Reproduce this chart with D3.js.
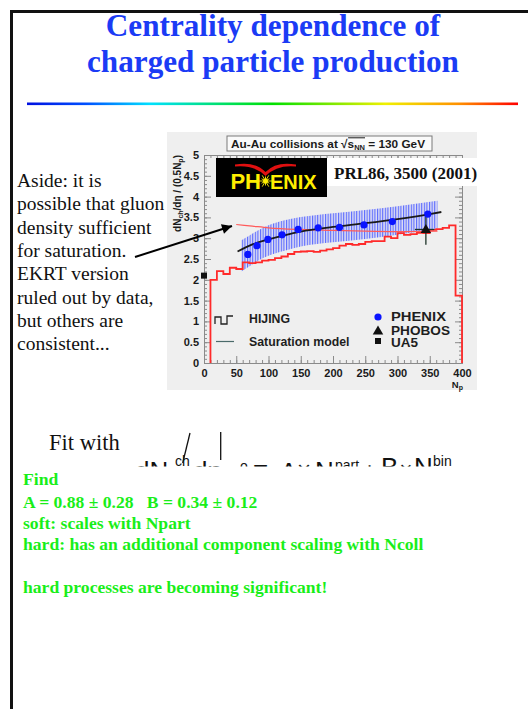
<!DOCTYPE html>
<html>
<head>
<meta charset="utf-8">
<script src="https://cdn.jsdelivr.net/npm/d3@7"></script>
<style>
body{margin:0;background:#fff;}
svg{display:block;}
</style>
</head>
<body>
<svg id="slide"></svg>
<script>
// PHENIX dNch/deta / (0.5 Npart) vs Npart
const phenixNp  = [68, 82, 99, 121, 146, 177, 210, 248, 292, 347]
const phenixVal = [2.61, 2.82, 2.97, 3.08, 3.21, 3.25, 3.26, 3.32, 3.40, 3.58]

// systematic error band (hatched)
const bandNp = [58, 70, 85, 100, 125, 150, 175, 200, 250, 300, 362]
const bandLo = [2.20, 2.32, 2.47, 2.58, 2.70, 2.80, 2.86, 2.90, 2.98, 3.08, 3.24]
const bandHi = [2.95, 3.06, 3.20, 3.31, 3.43, 3.51, 3.56, 3.60, 3.68, 3.77, 3.90]

// fit A*Npart + B*Nbin
const fitNp  = [52, 75, 100, 150, 200, 250, 300, 350, 368]
const fitVal = [2.68, 2.85, 2.97, 3.16, 3.27, 3.36, 3.46, 3.58, 3.63]

// saturation model
const satNp  = [50, 75, 100, 150, 200, 250, 300, 362]
const satVal = [3.33, 3.29, 3.25, 3.21, 3.19, 3.17, 3.16, 3.17]

// HIJING histogram: bin edges and contents
const hijingEdges = [10,20,30,40,50,60,70,80,90,100,110,120,130,140,150,160,170,180,190,200,
                     210,220,230,240,250,260,270,280,290,300,310,320,330,340,350,360,370,380,390,400]
const hijingVal = [2.00,2.21,2.14,2.29,2.26,2.42,2.40,2.42,2.46,2.48,2.52,2.56,2.62,2.67,2.68,2.69,2.67,2.70,2.73,2.76,
                   2.82,2.86,2.84,2.86,2.91,2.93,2.93,3.04,3.00,3.12,3.08,3.10,3.13,3.12,3.20,3.22,3.25,3.31,1.62]

// PHOBOS and UA5
const phobosNp = [344], phobosVal = [3.21], phobosLo = [2.84], phobosHi = [3.57], phobosNpLo = [327], phobosNpHi = [357]
const ua5Np = [0], ua5Val = [2.10]

// axes
const xTicks = [0, 50, 100, 150, 200, 250, 300, 350, 400]
const yTicks = [0, 0.5, 1, 1.5, 2, 2.5, 3, 3.5, 4, 4.5, 5]
const yLabels = ['0', '0.5', '1', '1.5', '2', '2.5', '3', '3.5', '4', '4.5', '5']

// slide texts
const titleLines = ['Centrality dependence of', 'charged particle production']
const asideLines = ['Aside: it is', 'possible that gluon', 'density sufficient', 'for saturation.',
                    'EKRT version', 'ruled out by data,', 'but others are', 'consistent...']
const greenLines = ['Find', 'A = 0.88 \u00b1 0.28   B = 0.34 \u00b1 0.12', 'soft: scales with Npart',
                    'hard: has an additional component scaling with Ncoll', '', 'hard processes are becoming significant!']

const SERIF = "'Liberation Serif','Times New Roman',serif"
const SANS = "'Liberation Sans',Arial,Helvetica,sans-serif"

const svg = d3.select('#slide').attr('width', 528).attr('height', 709)
const defs = svg.append('defs')

// ---------- slide frame, title, rainbow rule ----------
svg.append('rect').attr('x', 10).attr('y', 10).attr('width', 3).attr('height', 699).attr('fill', '#111')
svg.append('rect').attr('x', 10).attr('y', 10).attr('width', 518).attr('height', 3).attr('fill', '#111')

svg.selectAll('text.title').data(titleLines).enter().append('text')
    .attr('class', 'title')
    .attr('x', 273).attr('y', (d, i) => 35.5 + i * 36.5)
    .attr('text-anchor', 'middle')
    .attr('font-family', SERIF).attr('font-weight', 'bold').attr('font-size', 31.2)
    .attr('fill', '#1b3bf5')
    .text(d => d)

const grad = defs.append('linearGradient').attr('id', 'rainbow')
const stops = [[0, '#0010e0'], [0.12, '#0050ff'], [0.25, '#00e0ff'], [0.5, '#00e000'], [0.73, '#f0f000'], [0.88, '#ff9000'], [1, '#ff0000']]
grad.selectAll('stop').data(stops).enter().append('stop')
    .attr('offset', d => d[0]).attr('stop-color', d => d[1])
svg.append('rect').attr('x', 27).attr('y', 102.5).attr('width', 491).attr('height', 2.6).attr('fill', 'url(#rainbow)')

// ---------- aside text ----------
svg.selectAll('text.aside').data(asideLines).enter().append('text')
    .attr('class', 'aside')
    .attr('x', 17).attr('y', (d, i) => 187 + i * 23.3)
    .attr('font-family', SERIF).attr('font-size', 19.5).attr('fill', '#111')
    .text(d => d)

// ---------- chart ----------
class CentralityChart{
    constructor(config){
        this.config = config
        this.init()
    }

    init(){
        let self = this
        const c = self.config
        self.g = c.svg.append('g')
        self.xscale = d3.scaleLinear().domain([0, 400]).range([c.left, c.right])
        self.yscale = d3.scaleLinear().domain([0, 5]).range([c.bottom, c.top])
    }

    render(){
        let self = this
        const c = self.config
        const x = self.xscale, y = self.yscale
        const g = self.g

        g.append('rect').attr('x', c.bgX).attr('y', c.bgY).attr('width', c.bgW).attr('height', c.bgH).attr('fill', '#efefef')

        // axes (ROOT-like, ticks inward on all four sides)
        const axisColor = '#8a8a8a'
        const style = (a) => {
            a.select('.domain').attr('stroke', axisColor)
            a.selectAll('.tick line').attr('stroke', axisColor)
            a.selectAll('text').attr('font-family', SANS).attr('font-weight', 'bold').attr('font-size', 11).attr('fill', '#1a1a1a')
        }
        const xMinor = d3.range(0, 401, 10)
        const yMinor = d3.range(0, 5.001, 0.1)

        g.append('g').attr('transform', `translate(0,${c.bottom})`)
            .call(d3.axisBottom(x).tickValues(xMinor).tickSize(-3).tickFormat('')).call(style)
        g.append('g').attr('transform', `translate(0,${c.bottom})`)
            .call(d3.axisBottom(x).tickValues(xTicks).tickSizeInner(-7).tickSizeOuter(0).tickPadding(6)).call(style)
        g.append('g').attr('transform', `translate(0,${c.top})`)
            .call(d3.axisTop(x).tickValues(xMinor).tickSize(-3).tickFormat('')).call(style)
        g.append('g').attr('transform', `translate(0,${c.top})`)
            .call(d3.axisTop(x).tickValues(xTicks).tickSizeInner(-7).tickSizeOuter(0).tickFormat('')).call(style)

        g.append('g').attr('transform', `translate(${c.left},0)`)
            .call(d3.axisLeft(y).tickValues(yMinor).tickSize(-3).tickFormat('')).call(style)
        g.append('g').attr('transform', `translate(${c.left},0)`)
            .call(d3.axisLeft(y).tickValues(yTicks).tickSizeInner(-7).tickSizeOuter(0).tickPadding(5).tickFormat((d, i) => yLabels[i])).call(style)
        g.append('g').attr('transform', `translate(${c.right},0)`)
            .call(d3.axisRight(y).tickValues(yMinor).tickSize(-3).tickFormat('')).call(style)
        g.append('g').attr('transform', `translate(${c.right},0)`)
            .call(d3.axisRight(y).tickValues(yTicks).tickSizeInner(-7).tickSizeOuter(0).tickFormat('')).call(style)

        // axis titles
        const yt = g.append('text')
            .attr('transform', `translate(181,${c.top}) rotate(-90)`)
            .attr('text-anchor', 'end')
            .attr('font-family', SANS).attr('font-weight', 'bold').attr('font-size', 10).attr('fill', '#1a1a1a')
        yt.append('tspan').text('dN')
        yt.append('tspan').attr('font-size', 7).attr('dy', 2).text('ch')
        yt.append('tspan').attr('dy', -2).text('/d\u03b7 / (0.5N')
        yt.append('tspan').attr('font-size', 7).attr('dy', 2).text('p')
        yt.append('tspan').attr('dy', -2).text(')')

        const xt = g.append('text').attr('x', c.right + 1).attr('y', 387.5)
            .attr('text-anchor', 'end')
            .attr('font-family', SANS).attr('font-weight', 'bold').attr('font-size', 9.5).attr('fill', '#1a1a1a')
        xt.append('tspan').text('N')
        xt.append('tspan').attr('font-size', 7).attr('dy', 2).text('p')

        // title box
        g.append('rect').attr('x', 227).attr('y', 136).attr('width', 205).attr('height', 15)
            .attr('fill', '#fafafa').attr('stroke', '#7a7a7a').attr('stroke-width', 1)
        const tb = g.append('text').attr('x', 231).attr('y', 147.5)
            .attr('font-family', SANS).attr('font-weight', 'bold').attr('font-size', 11.8).attr('fill', '#1a1a1a')
        tb.append('tspan').text('Au-Au collisions at \u221a')
        tb.append('tspan').text('s')
        tb.append('tspan').attr('font-size', 7.5).attr('dy', 2.5).text('NN')
        tb.append('tspan').attr('dy', -2.5).text(' = 130 GeV')
        const tn = tb.node()
        const full = tn.textContent
        const s0 = tn.getStartPositionOfChar(full.indexOf('\u221a')).x + 7
        const s1 = tn.getStartPositionOfChar(full.indexOf(' = ')).x
        g.append('line').attr('x1', s0).attr('x2', s1).attr('y1', 137.8).attr('y2', 137.8)
            .attr('stroke', '#1a1a1a').attr('stroke-width', 1)

        // hatched systematic band
        const pat = defs.append('pattern').attr('id', 'hatch').attr('patternUnits', 'userSpaceOnUse')
            .attr('width', 2.6).attr('height', 10)
        pat.append('rect').attr('width', 2.6).attr('height', 10).attr('fill', '#dcdcf4')
        pat.append('rect').attr('width', 1.1).attr('height', 10).attr('fill', '#4a5cff')
        const band = bandNp.map((d, i) => ({np: d, lo: bandLo[i], hi: bandHi[i]}))
        g.append('path').datum(band)
            .attr('d', d3.area().x(d => x(d.np)).y0(d => y(d.lo)).y1(d => y(d.hi)).curve(d3.curveMonotoneX))
            .attr('fill', 'url(#hatch)').attr('opacity', 0.9)

        // HIJING histogram
        const hij = [{np: hijingEdges[0], v: 0}]
        hijingVal.forEach((v, i) => hij.push({np: hijingEdges[i], v: v}))
        hij.push({np: hijingEdges[hijingEdges.length - 1], v: hijingVal[hijingVal.length - 1]})
        hij.push({np: hijingEdges[hijingEdges.length - 1], v: 0})
        g.append('path').datum(hij)
            .attr('d', d3.line().x(d => x(d.np)).y(d => y(d.v)).curve(d3.curveStepAfter))
            .attr('fill', 'none').attr('stroke', '#ff2a2a').attr('stroke-width', 1.8)

        // saturation model
        g.append('path').datum(satNp.map((d, i) => [d, satVal[i]]))
            .attr('d', d3.line().x(d => x(d[0])).y(d => y(d[1])).curve(d3.curveMonotoneX))
            .attr('fill', 'none').attr('stroke', '#ff5a5a').attr('stroke-width', 1.2)

        // fit
        g.append('path').datum(fitNp.map((d, i) => [d, fitVal[i]]))
            .attr('d', d3.line().x(d => x(d[0])).y(d => y(d[1])).curve(d3.curveMonotoneX))
            .attr('fill', 'none').attr('stroke', '#1a1a1a').attr('stroke-width', 1.8)

        // PHOBOS
        const dark = '#1d3328'
        phobosNp.forEach((np, i) => {
            g.append('line').attr('x1', x(np)).attr('x2', x(np)).attr('y1', y(phobosLo[i])).attr('y2', y(phobosHi[i]))
                .attr('stroke', dark).attr('stroke-width', 1.3)
            g.append('line').attr('x1', x(phobosNpLo[i])).attr('x2', x(phobosNpHi[i])).attr('y1', y(phobosVal[i])).attr('y2', y(phobosVal[i]))
                .attr('stroke', dark).attr('stroke-width', 1.3)
        })
        g.selectAll('path.phobos').data(phobosNp).enter().append('path')
            .attr('class', 'phobos')
            .attr('d', d3.symbol(d3.symbolTriangle, 48))
            .attr('transform', (d, i) => `translate(${x(d)},${y(phobosVal[i]) + 0.5})`)
            .attr('fill', '#111')

        // UA5
        g.selectAll('rect.ua5').data(ua5Np).enter().append('rect')
            .attr('class', 'ua5')
            .attr('x', d => x(d) - 3).attr('y', (d, i) => y(ua5Val[i]) - 3)
            .attr('width', 6).attr('height', 6).attr('fill', '#111')

        // PHENIX
        g.selectAll('circle.phenix').data(phenixNp).enter().append('circle')
            .attr('class', 'phenix')
            .attr('cx', d => x(d)).attr('cy', (d, i) => y(phenixVal[i]))
            .attr('r', 3.6).attr('fill', '#0a14ff')

        // legend
        const lg = g.append('g').attr('font-family', SANS).attr('font-weight', 'bold').attr('fill', '#1e1e1e')
        lg.append('path').attr('d', 'M215,324 V317 H221 V324 H227 V316 H233')
            .attr('fill', 'none').attr('stroke', '#222').attr('stroke-width', 1.3)
        lg.append('line').attr('x1', 216).attr('x2', 234).attr('y1', 341.5).attr('y2', 341.5)
            .attr('stroke', '#4a6a6a').attr('stroke-width', 1.2)
        lg.append('text').attr('x', 249).attr('y', 322.5).attr('font-size', 12.3).text('HIJING')
        lg.append('text').attr('x', 249).attr('y', 346).attr('font-size', 12.3).text('Saturation model')
        lg.append('circle').attr('cx', 378).attr('cy', 317).attr('r', 3.6).attr('fill', '#0a14ff')
        lg.append('path').attr('d', d3.symbol(d3.symbolTriangle, 48)).attr('transform', 'translate(378,331.5)').attr('fill', '#111')
        lg.append('rect').attr('x', 375).attr('y', 338).attr('width', 6).attr('height', 6).attr('fill', '#111')
        const legR = [['PHENIX', 321.3], ['PHOBOS', 334.8], ['UA5', 347]]
        lg.selectAll('text.legr').data(legR).enter().append('text')
            .attr('class', 'legr')
            .attr('x', 391).attr('y', d => d[1]).attr('font-size', 13)
            .attr('textLength', d => d[0] === 'UA5' ? 27 : (d[0] === 'PHENIX' ? 55 : 59))
            .attr('lengthAdjust', 'spacingAndGlyphs')
            .text(d => d[0])

        // PHENIX logo
        g.append('rect').attr('x', 216).attr('y', 158).attr('width', 111).attr('height', 39).attr('fill', '#000')
        g.append('path')
            .attr('d', 'M235,164.5 Q255,161 265.5,172 Q276,161 296,164.5 L296,166.5 Q277,164.5 265.5,176 Q254,164.5 235,166.5 Z')
            .attr('fill', '#e01010')
        g.append('text').attr('x', 261).attr('y', 189).attr('text-anchor', 'end')
            .attr('font-family', SANS).attr('font-weight', 'bold').attr('font-size', 22).attr('fill', '#ffee00').text('PH')
        g.append('text').attr('x', 270).attr('y', 189)
            .attr('font-family', SANS).attr('font-weight', 'bold').attr('font-size', 20).attr('fill', '#ffee00').text('ENIX')
        const star = g.append('g').attr('transform', 'translate(265.5,181)')
        d3.range(0, 360, 30).forEach(a => {
            const r = (a % 60 === 0) ? 6.5 : 4.5
            star.append('line').attr('x1', 0).attr('y1', 0)
                .attr('x2', r * Math.cos(a * Math.PI / 180)).attr('y2', r * Math.sin(a * Math.PI / 180))
                .attr('stroke', '#ffee00').attr('stroke-width', 0.9)
        })
        star.append('circle').attr('r', 2.5).attr('fill', '#ffee00')

        // reference box
        g.append('rect').attr('x', 327).attr('y', 158).attr('width', 157).attr('height', 28).attr('fill', '#fff')
        g.append('text').attr('x', 334).attr('y', 178.5)
            .attr('font-family', SERIF).attr('font-weight', 'bold').attr('font-size', 17).attr('fill', '#111')
            .text('PRL86, 3500 (2001)')
    }
}

const chart = new CentralityChart({
    svg: svg,
    left: 204, right: 462, top: 155, bottom: 363,
    bgX: 167, bgY: 132, bgW: 310, bgH: 258
})
chart.render()

// ---------- arrow ----------
defs.append('marker').attr('id', 'ah').attr('viewBox', '0 0 10 10')
    .attr('refX', 10).attr('refY', 5).attr('markerWidth', 13).attr('markerHeight', 10)
    .attr('markerUnits', 'userSpaceOnUse').attr('orient', 'auto')
    .append('path').attr('d', 'M0,0 L10,5 L0,10 Z').attr('fill', '#000')
svg.append('line').attr('x1', 135).attr('y1', 257).attr('x2', 232).attr('y2', 226)
    .attr('stroke', '#000').attr('stroke-width', 2).attr('marker-end', 'url(#ah)')

// ---------- "Fit with" equation (cut off at the bottom by the green text box) ----------
svg.append('text').attr('x', 49).attr('y', 449.5)
    .attr('font-family', SERIF).attr('font-size', 22.5).attr('fill', '#111').text('Fit with')

defs.append('clipPath').attr('id', 'eqclip').append('rect').attr('x', 0).attr('y', 420).attr('width', 528).attr('height', 46.5)
const eq = svg.append('g').attr('clip-path', 'url(#eqclip)').attr('font-family', SANS).attr('fill', '#111')
const eqParts = [
    ['dN', 135, 480, 26], ['ch', 175, 466, 14], ['d\u03b7', 193, 480, 26], ['o', 240, 471, 14],
    ['=', 253, 477, 26], ['A', 280, 481, 26], ['\u00d7', 297, 478, 24], ['N', 315, 480, 26],
    ['part', 335, 470, 14], ['+', 362, 480, 26], ['B', 381, 475.5, 26], ['\u00d7', 399.5, 477, 22],
    ['N', 414, 475.5, 26], ['bin', 433, 465.5, 14]
]
eq.selectAll('text').data(eqParts).enter().append('text')
    .attr('x', d => d[1]).attr('y', d => d[2]).attr('font-size', d => d[3]).text(d => d[0])
svg.append('line').attr('x1', 190).attr('y1', 433).attr('x2', 182.7).attr('y2', 463).attr('stroke', '#111').attr('stroke-width', 1.3)
svg.append('line').attr('x1', 220.7).attr('y1', 432).attr('x2', 220.7).attr('y2', 460).attr('stroke', '#111').attr('stroke-width', 1.3)

// ---------- green conclusions ----------
svg.selectAll('text.green').data(greenLines).enter().append('text')
    .attr('class', 'green')
    .attr('x', 23).attr('y', (d, i) => [485, 508, 529, 549.5, 571, 592.5][i])
    .attr('font-family', SERIF).attr('font-weight', 'bold').attr('font-size', 17.6).attr('fill', '#19ee19')
    .attr('xml:space', 'preserve').style('white-space', 'pre')
    .text(d => d)
</script>
</body>
</html>
